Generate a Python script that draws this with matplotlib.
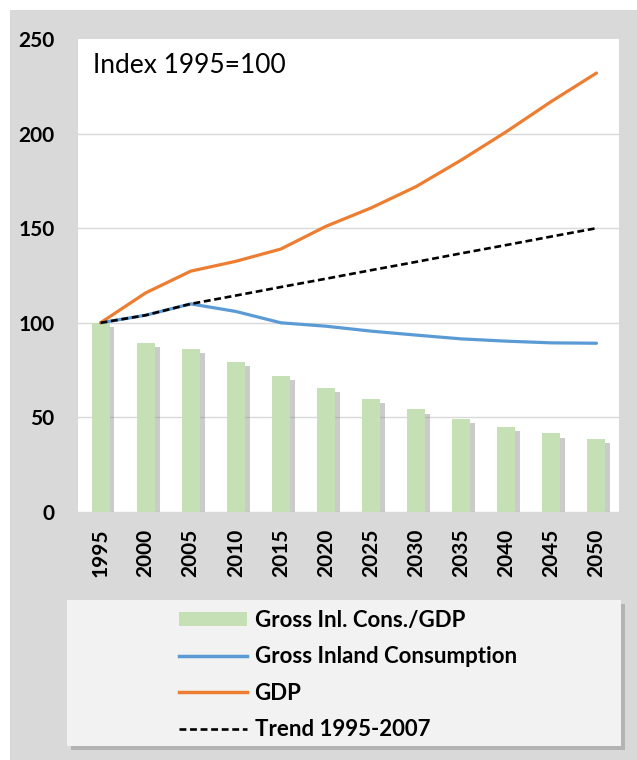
import matplotlib
matplotlib.use("Agg")
import matplotlib.pyplot as plt
import matplotlib.patches as mpatches
import matplotlib.patheffects as pe
from matplotlib.lines import Line2D
import numpy as np

years = ["1995", "2000", "2005", "2010", "2015", "2020", "2025", "2030", "2035", "2040", "2045", "2050"]
intensity = [100, 89.4, 86, 79.4, 71.8, 65.8, 59.9, 54.2, 49, 44.9, 41.5, 38.7]
gross_inland = [100, 104, 110, 106, 100, 98.2, 95.6, 93.5, 91.5, 90.3, 89.4, 89.2]
gdp = [100, 115.8, 127.3, 132.5, 139, 151, 160.7, 172, 186, 201, 217, 232]
trend = [100, 104, 110, 114.4, 118.9, 123.3, 127.8, 132.2, 136.7, 141.1, 145.6, 150]
yticks = [0, 50, 100, 150, 200, 250]

labels = ["Gross Inl. Cons./GDP", "Gross Inland Consumption", "GDP", "Trend 1995-2007"]
title_text = "Index 1995=100"

GREEN = "#C5E0B4"
BLUE = "#5B9BD5"
ORANGE = "#ED7D31"
BG = "#D9D9D9"
LEG_BG = "#F2F2F2"

FONT = "Lato"

W, H = 637, 760
fig = plt.figure(figsize=(W / 100, H / 100), dpi=100)
fig.patch.set_facecolor("white")

def px(x0, y0, x1, y1):
    return [x0 / W, 1 - y1 / H, (x1 - x0) / W, (y1 - y0) / H]

# outer gray chart area
fig.patches.append(mpatches.Rectangle((10 / W, 0), 1, (H - 10) / H, transform=fig.transFigure,
                                      facecolor=BG, edgecolor="none", zorder=0))

ax = fig.add_axes(px(78, 39, 619, 512))
ax.set_zorder(3)
ax.set_facecolor("white")
x = np.arange(len(years))

bars = ax.bar(x, intensity, width=0.4, color=GREEN, zorder=2)
for b in bars:
    b.set_path_effects([pe.SimplePatchShadow(offset=(3.5, -3), shadow_rgbFace="#7f7f7f", alpha=0.4),
                        pe.Normal()])

ax.plot(x, gross_inland, color=BLUE, lw=2.3, zorder=3, solid_capstyle="round")
ax.plot(x, gdp, color=ORANGE, lw=2.3, zorder=3, solid_capstyle="round")
ax.plot(x, trend, color="black", lw=1.9, ls=(0, (2.6, 1.4)), zorder=4)

ax.set_xlim(-0.5, len(years) - 0.5)
ax.set_ylim(0, 250)
ax.set_yticks(yticks)
ax.set_yticklabels([str(v) for v in yticks])
ax.set_xticks(x)
ax.set_xticklabels(years, rotation=90)
ax.tick_params(axis="both", length=0, labelsize=15, labelcolor="black")
ax.tick_params(axis="y", pad=17)
ax.tick_params(axis="x", pad=12)
for lab in ax.get_xticklabels() + ax.get_yticklabels():
    lab.set_fontfamily(FONT)
    lab.set_fontweight("bold")

ax.yaxis.grid(True, color="#D9D9D9", lw=1)
ax.set_axisbelow(True)
ax.get_ygridlines()[-1].set_visible(False)
for s in ax.spines.values():
    s.set_visible(False)

ax.text(0.028, 0.945, title_text, transform=ax.transAxes, fontsize=19, fontfamily=FONT,
        va="center", ha="left", color="black")

# legend box with shadow
fig.patches.append(mpatches.Rectangle((71 / W, 1 - 750 / H), (621 - 67) / W, (746 - 600) / H,
                                      transform=fig.transFigure, facecolor="#9a9a9a", edgecolor="none",
                                      alpha=0.6, zorder=1))
fig.patches.append(mpatches.Rectangle((67 / W, 1 - 746 / H), (621 - 67) / W, (746 - 600) / H,
                                      transform=fig.transFigure, facecolor=LEG_BG, edgecolor="none",
                                      zorder=1))

handles = [mpatches.Patch(facecolor=GREEN, edgecolor="none"),
           Line2D([], [], color=BLUE, lw=2.5),
           Line2D([], [], color=ORANGE, lw=2.5),
           Line2D([], [], color="black", lw=1.9, ls=(0, (2.6, 1.4)))]
leg = fig.legend(handles, labels, loc="upper left", bbox_to_anchor=(179 / W, 1 - 610 / H),
                 frameon=False, borderpad=0, borderaxespad=0,
                 prop={"family": FONT, "weight": "bold", "size": 16},
                 handlelength=3.05, handleheight=0.6, handletextpad=0.35, labelspacing=0.69)
leg.set_zorder(5)

fig.savefig("out.png", dpi=100)
